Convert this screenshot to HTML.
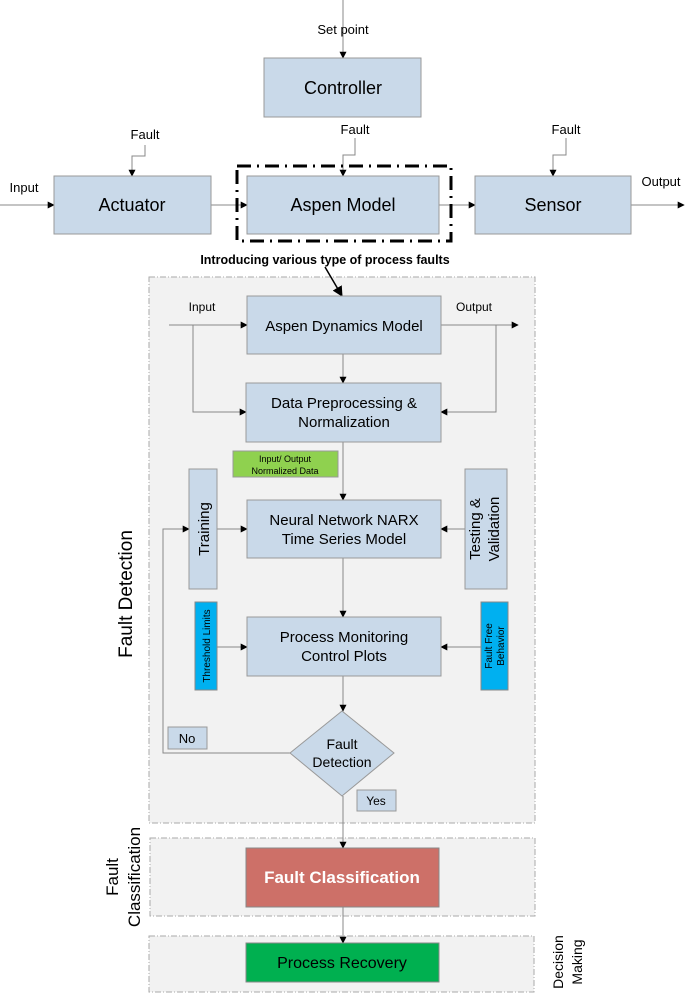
<!DOCTYPE html>
<html><head><meta charset="utf-8"><style>
html,body{margin:0;padding:0;background:#fff;}
svg{display:block;font-family:"Liberation Sans",Arial,sans-serif;}
</style></head><body>
<svg width="685" height="993" viewBox="0 0 685 993" xmlns="http://www.w3.org/2000/svg">
<defs>
<marker id="a" viewBox="0 0 10 10" refX="9" refY="5" markerWidth="7" markerHeight="7" orient="auto-start-reverse"><path d="M0,0 L10,5 L0,10 z" fill="#000"/></marker>
</defs>
<!-- panels -->
<g fill="#f2f2f2" stroke="#aaa" stroke-dasharray="6,2,1,2" stroke-width="1">
<rect x="149" y="277" width="386" height="546"/>
<rect x="150" y="838" width="385" height="78"/>
<rect x="149" y="936" width="385" height="56"/>
</g>
<g fill="none" stroke="#888" stroke-width="1" marker-end="url(#a)">
<!-- top -->
<line x1="343" y1="0" x2="343" y2="58"/>
<line x1="0" y1="205" x2="54" y2="205"/>
<line x1="211" y1="205" x2="247" y2="205"/>
<line x1="439" y1="205" x2="475" y2="205"/>
<line x1="631" y1="205" x2="684" y2="205"/>
<polyline points="145,145 145,156 132,156 132,176"/>
<polyline points="355,138 355,155 343,155 343,176"/>
<polyline points="566,138 566,155 553,155 553,176"/>
<!-- inner -->
<line x1="169" y1="325" x2="247" y2="325"/>
<line x1="441" y1="325" x2="518" y2="325"/>
<polyline points="193,325 193,412 246,412"/>
<polyline points="496,325 496,412 441,412"/>
<line x1="343" y1="354" x2="343" y2="383"/>
<line x1="343" y1="442" x2="343" y2="500"/>
<line x1="217" y1="529" x2="247" y2="529"/>
<line x1="465" y1="529" x2="441" y2="529"/>
<polyline points="290,753 163,753 163,529 189,529"/>
<line x1="343" y1="558" x2="343" y2="617"/>
<line x1="217" y1="647" x2="247" y2="647"/>
<line x1="481" y1="647" x2="441" y2="647"/>
<line x1="343" y1="676" x2="343" y2="711"/>
<line x1="343" y1="796" x2="343" y2="848"/>
<line x1="343" y1="907" x2="343" y2="943"/>
</g>
<line x1="325" y1="267" x2="342" y2="296" stroke="#000" stroke-width="1.5" marker-end="url(#a)"/>
<!-- boxes -->
<g fill="#c9d9e9" stroke="#999" stroke-width="1">
<rect x="264" y="58" width="157" height="59"/>
<rect x="54" y="176" width="157" height="58"/>
<rect x="247" y="176" width="192" height="58"/>
<rect x="475" y="176" width="156" height="58"/>
<rect x="247" y="296" width="194" height="58"/>
<rect x="246" y="383" width="195" height="59"/>
<rect x="189" y="469" width="28" height="120"/>
<rect x="247" y="500" width="194" height="58"/>
<rect x="465" y="469" width="42" height="120"/>
<rect x="247" y="617" width="194" height="59"/>
<rect x="168" y="727" width="39" height="22"/>
<rect x="357" y="790" width="39" height="21"/>
<polygon points="342,711 394,753 342,796 290,753"/>
</g>
<rect x="233" y="451" width="105" height="26" fill="#8fd14f" stroke="#999"/>
<rect x="195" y="602" width="22" height="88" fill="#00b0f0" stroke="#888"/>
<rect x="481" y="602" width="27" height="88" fill="#00b0f0" stroke="#888"/>
<rect x="246" y="848" width="193" height="59" fill="#cd7068" stroke="#888"/>
<rect x="246" y="943" width="193" height="39" fill="#00b050" stroke="#888"/>
<rect x="237" y="166" width="214" height="75" fill="none" stroke="#000" stroke-width="3" stroke-dasharray="14,6,2,6"/>
<!-- text -->
<g fill="#000" text-anchor="middle">
<text x="343" y="34" font-size="13">Set point</text>
<text x="343" y="94" font-size="18">Controller</text>
<text x="145" y="139" font-size="13">Fault</text>
<text x="355" y="134" font-size="13">Fault</text>
<text x="566" y="134" font-size="13">Fault</text>
<text x="24" y="192" font-size="13">Input</text>
<text x="661" y="186" font-size="13">Output</text>
<text x="132" y="211" font-size="18">Actuator</text>
<text x="343" y="211" font-size="18">Aspen Model</text>
<text x="553" y="211" font-size="18">Sensor</text>
<text x="325" y="264" font-size="12.5" font-weight="bold">Introducing various type of process faults</text>
<text x="202" y="311" font-size="12">Input</text>
<text x="474" y="311" font-size="12">Output</text>
<text x="344" y="331" font-size="15">Aspen Dynamics Model</text>
<text x="344" y="408" font-size="15">Data Preprocessing &amp;</text>
<text x="344" y="427" font-size="15">Normalization</text>
<text x="285" y="462" font-size="9">Input/ Output</text>
<text x="285" y="474" font-size="9">Normalized Data</text>
<text x="344" y="525" font-size="15">Neural Network NARX</text>
<text x="344" y="544" font-size="15">Time Series Model</text>
<text x="344" y="642" font-size="15">Process Monitoring</text>
<text x="344" y="661" font-size="15">Control Plots</text>
<text x="342" y="749" font-size="14">Fault</text>
<text x="342" y="767" font-size="14">Detection</text>
<text x="187" y="743" font-size="13">No</text>
<text x="376" y="805" font-size="12">Yes</text>
<text x="342" y="883" font-size="17" font-weight="bold" fill="#fff">Fault Classification</text>
<text x="342" y="968" font-size="16">Process Recovery</text>
<text transform="translate(209,529) rotate(-90)" font-size="15">Training</text>
<text transform="translate(480,529) rotate(-90)" font-size="15">Testing &amp;</text>
<text transform="translate(499,529) rotate(-90)" font-size="15">Validation</text>
<text transform="translate(210,646) rotate(-90)" font-size="10">Threshold Limits</text>
<text transform="translate(492,646) rotate(-90)" font-size="10">Fault Free</text>
<text transform="translate(504,646) rotate(-90)" font-size="10">Behavior</text>
<text transform="translate(132,594) rotate(-90)" font-size="19">Fault Detection</text>
<text transform="translate(118,877) rotate(-90)" font-size="17">Fault</text>
<text transform="translate(140,877) rotate(-90)" font-size="17">Classification</text>
<text transform="translate(563,962) rotate(-90)" font-size="14">Decision</text>
<text transform="translate(582,962) rotate(-90)" font-size="14">Making</text>
</g>
</svg>
</body></html>
